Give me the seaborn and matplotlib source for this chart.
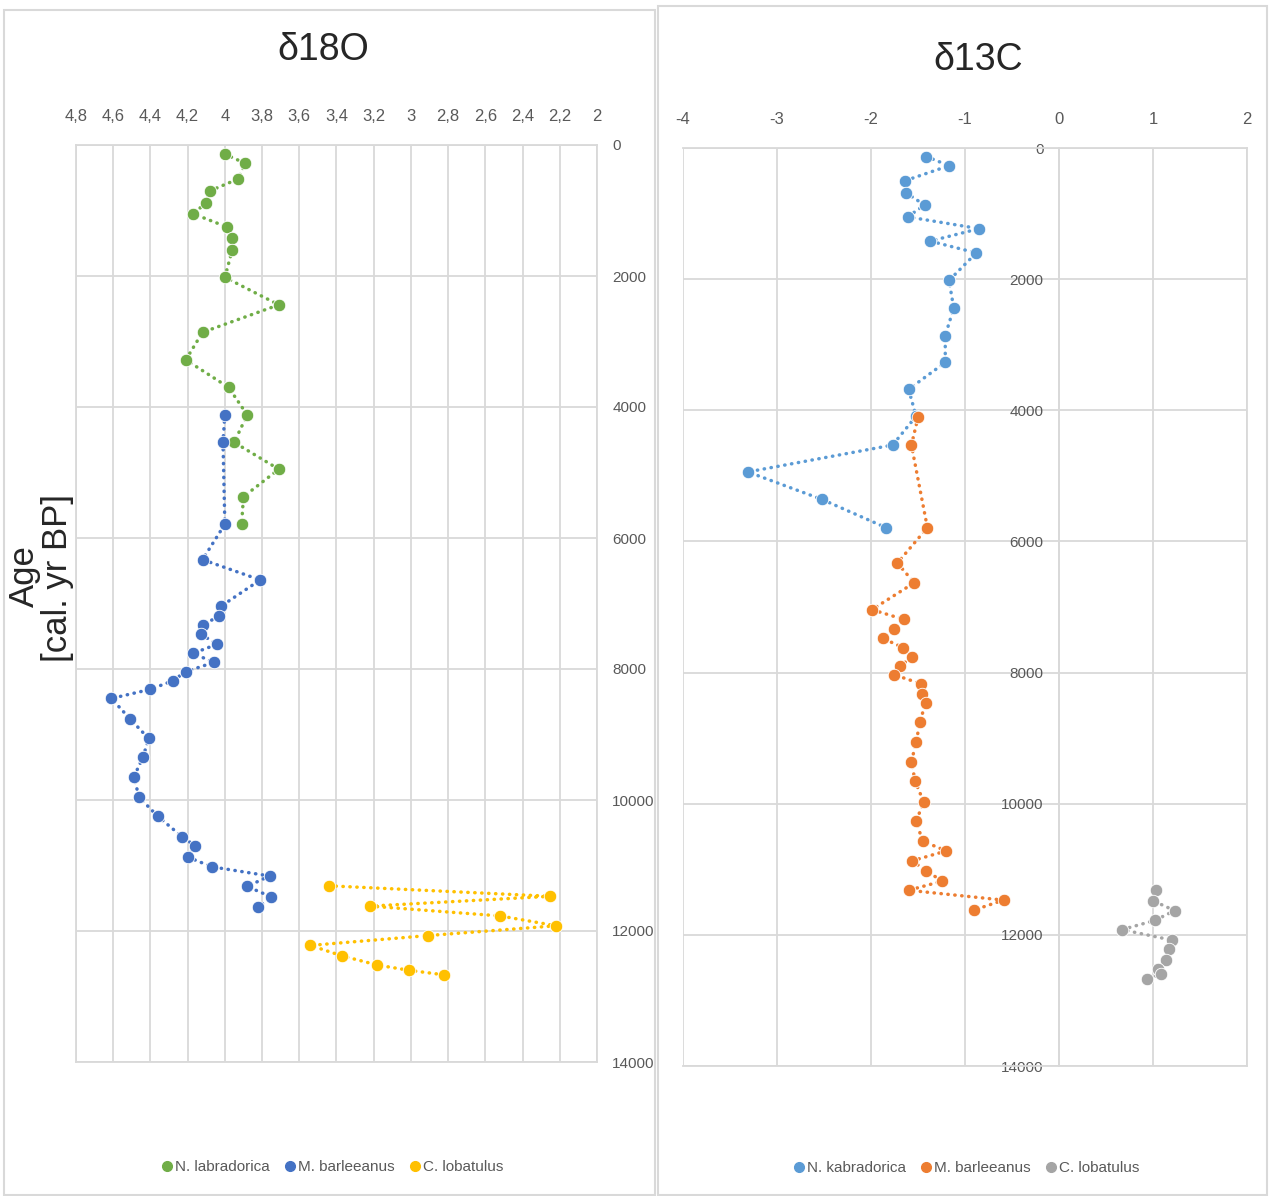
import matplotlib
matplotlib.use("Agg")
import matplotlib.pyplot as plt
import seaborn as sns
import pandas as pd
from matplotlib.lines import Line2D
from matplotlib.patches import Rectangle

# ---------------- data: delta 18O panel ----------------
o18_nlab_age = [140, 280, 520, 700, 880, 1050, 1250, 1420, 1600, 2020, 2440, 2860,
                3280, 3700, 4120, 4540, 4950, 5370, 5790]
o18_nlab_val = [4.00, 3.89, 3.93, 4.08, 4.10, 4.17, 3.99, 3.96, 3.96, 4.00, 3.71, 4.12,
                4.21, 3.98, 3.88, 3.95, 3.71, 3.90, 3.91]

o18_mbar_age = [4120, 4540, 5790, 6330, 6640, 7040, 7190, 7330, 7470, 7620, 7760, 7900,
                8040, 8180, 8310, 8450, 8760, 9060, 9350, 9650, 9960, 10250, 10560, 10700,
                10870, 11020, 11160, 11320, 11480, 11630]
o18_mbar_val = [4.00, 4.01, 4.00, 4.12, 3.81, 4.02, 4.03, 4.12, 4.13, 4.04, 4.17, 4.06,
                4.21, 4.28, 4.40, 4.61, 4.51, 4.41, 4.44, 4.49, 4.46, 4.36, 4.23, 4.16,
                4.20, 4.07, 3.76, 3.88, 3.75, 3.82]

o18_clob_age = [11310, 11470, 11620, 11770, 11920, 12070, 12220, 12380, 12520, 12600, 12670]
o18_clob_val = [3.44, 2.25, 3.22, 2.52, 2.22, 2.91, 3.54, 3.37, 3.18, 3.01, 2.82]

# ---------------- data: delta 13C panel ----------------
c13_nkab_age = [130, 270, 500, 680, 870, 1050, 1230, 1420, 1600, 2020, 2440, 2860,
                3270, 3680, 4090, 4530, 4940, 5360, 5790]
c13_nkab_val = [-1.41, -1.17, -1.64, -1.63, -1.43, -1.61, -0.85, -1.37, -0.88, -1.17, -1.12, -1.21,
                -1.21, -1.60, -1.52, -1.77, -3.31, -2.52, -1.84]

c13_mbar_age = [4110, 4530, 5790, 6330, 6630, 7040, 7190, 7340, 7480, 7620, 7760, 7900,
                8030, 8170, 8320, 8460, 8760, 9060, 9360, 9660, 9970, 10270, 10570, 10720,
                10870, 11020, 11180, 11320, 11470, 11620]
c13_mbar_val = [-1.50, -1.57, -1.40, -1.72, -1.54, -1.99, -1.65, -1.76, -1.87, -1.66, -1.56, -1.69,
                -1.76, -1.47, -1.46, -1.42, -1.48, -1.52, -1.57, -1.53, -1.44, -1.52, -1.45, -1.20,
                -1.56, -1.42, -1.24, -1.60, -0.59, -0.90]

c13_clob_age = [11310, 11480, 11630, 11780, 11920, 12080, 12220, 12380, 12520, 12600, 12670]
c13_clob_val = [1.03, 1.00, 1.23, 1.02, 0.67, 1.20, 1.17, 1.14, 1.05, 1.09, 0.94]

# ---------------- axis ticks / labels ----------------
o18_xticks = [4.8, 4.6, 4.4, 4.2, 4.0, 3.8, 3.6, 3.4, 3.2, 3.0, 2.8, 2.6, 2.4, 2.2, 2.0]
o18_xlabels = ["4,8", "4,6", "4,4", "4,2", "4", "3,8", "3,6", "3,4", "3,2", "3",
               "2,8", "2,6", "2,4", "2,2", "2"]
c13_xticks = [-4, -3, -2, -1, 0, 1, 2]
c13_xlabels = ["-4", "-3", "-2", "-1", "0", "1", "2"]
age_ticks = [0, 2000, 4000, 6000, 8000, 10000, 12000, 14000]
age_labels = ["0", "2000", "4000", "6000", "8000", "10000", "12000", "14000"]

left_names = ["N. labradorica", "M. barleeanus", "C. lobatulus"]
right_names = ["N. kabradorica", "M. barleeanus", "C. lobatulus"]
left_colors = ["#70ad47", "#4472c4", "#ffc000"]
right_colors = ["#5b9bd5", "#ed7d31", "#a5a5a5"]

# ---------------- style ----------------
sns.set_theme(style="white")
plt.rcParams["font.family"] = ["Liberation Sans", "DejaVu Sans"]
GRID = "#d9d9d9"
TXT = "#595959"

W, H = 1269, 1196
fig = plt.figure(figsize=(W / 100, H / 100), dpi=100)
fig.patch.set_facecolor("white")


def fx(px):
    return px / W


def fy(py):
    return 1 - py / H


ax1 = fig.add_axes([fx(76), fy(1062), fx(597 - 76), (1062 - 145) / H])
ax2 = fig.add_axes([fx(683), fy(1066), fx(1247 - 683), (1066 - 148) / H])

line_kw = dict(sort=False, estimator=None, linewidth=2.5, marker="o", markersize=9,
               markeredgecolor="white", markeredgewidth=0.6,
               dash_capstyle="round")


def draw(ax, vals_list, ages_list, colors):
    for v, a, c in zip(vals_list, ages_list, colors):
        df = pd.DataFrame({"val": v, "age": a})
        sns.lineplot(data=df, x="val", y="age", ax=ax, color=c,
                     linestyle=(0, (0.1, 1.9)), **line_kw)


draw(ax1, [o18_nlab_val, o18_mbar_val, o18_clob_val],
     [o18_nlab_age, o18_mbar_age, o18_clob_age], left_colors)
draw(ax2, [c13_nkab_val, c13_mbar_val, c13_clob_val],
     [c13_nkab_age, c13_mbar_age, c13_clob_age], right_colors)

for ax in (ax1, ax2):
    ax.set_xlabel("")
    ax.set_ylabel("")
    ax.set_ylim(14000, 0)
    ax.set_yticks(age_ticks)
    ax.set_yticklabels(age_labels)
    ax.grid(True, color=GRID, linewidth=1.3)
    ax.set_axisbelow(True)
    ax.xaxis.tick_top()
    ax.tick_params(axis="x", length=0, pad=15, labelsize=12, labelcolor=TXT)
    ax.tick_params(axis="y", length=0, labelsize=11, labelcolor=TXT)
    for s in ax.spines.values():
        s.set_color(GRID)
        s.set_linewidth(1.3)
    ax.set_facecolor("white")

ax1.set_xlim(4.8, 2.0)
ax1.set_xticks(o18_xticks)
ax1.set_xticklabels(o18_xlabels)
ax1.yaxis.tick_right()
ax1.tick_params(axis="y", pad=11)

ax2.set_xlim(-4, 2)
ax2.set_xticks(c13_xticks)
ax2.set_xticklabels(c13_xlabels)
ax2.spines["left"].set_position(("data", 0))
ax2.yaxis.set_ticks_position("left")
ax2.tick_params(axis="y", pad=11)

# panel frames
fig.patches.append(Rectangle((fx(4), fy(1195)), fx(655 - 4), (1195 - 10) / H,
                             transform=fig.transFigure, fill=False,
                             edgecolor=GRID, linewidth=1.5))
fig.patches.append(Rectangle((fx(658), fy(1195)), fx(1267 - 658), (1195 - 6) / H,
                             transform=fig.transFigure, fill=False,
                             edgecolor=GRID, linewidth=1.5))

# titles
fig.text(fx(323), fy(50), "δ18O", ha="center", va="center", fontsize=27, color="#262626")
fig.text(fx(978), fy(60), "δ13C", ha="center", va="center", fontsize=27, color="#262626")

# y label (two lines)
fig.text(fx(24), fy(576), "Age", rotation=90, ha="center", va="center",
         fontsize=25, color="#262626")
fig.text(fx(57), fy(578), "[cal. yr BP]", rotation=90, ha="center", va="center",
         fontsize=25, color="#262626")

# legends


def legend(names, colors, cx, cy):
    handles = [Line2D([], [], linestyle="none", marker="o", markersize=7,
                      markerfacecolor=c, markeredgecolor=c) for c in colors]
    fig.legend(handles, names, loc="center", bbox_to_anchor=(fx(cx), fy(cy)),
               ncol=3, frameon=False, fontsize=11, labelcolor=TXT,
               handlelength=0.6, handletextpad=0.25, columnspacing=1.0)


legend(left_names, left_colors, 333, 1167)
legend(right_names, right_colors, 967, 1168)

fig.savefig("out.png", dpi=100, facecolor="white")
